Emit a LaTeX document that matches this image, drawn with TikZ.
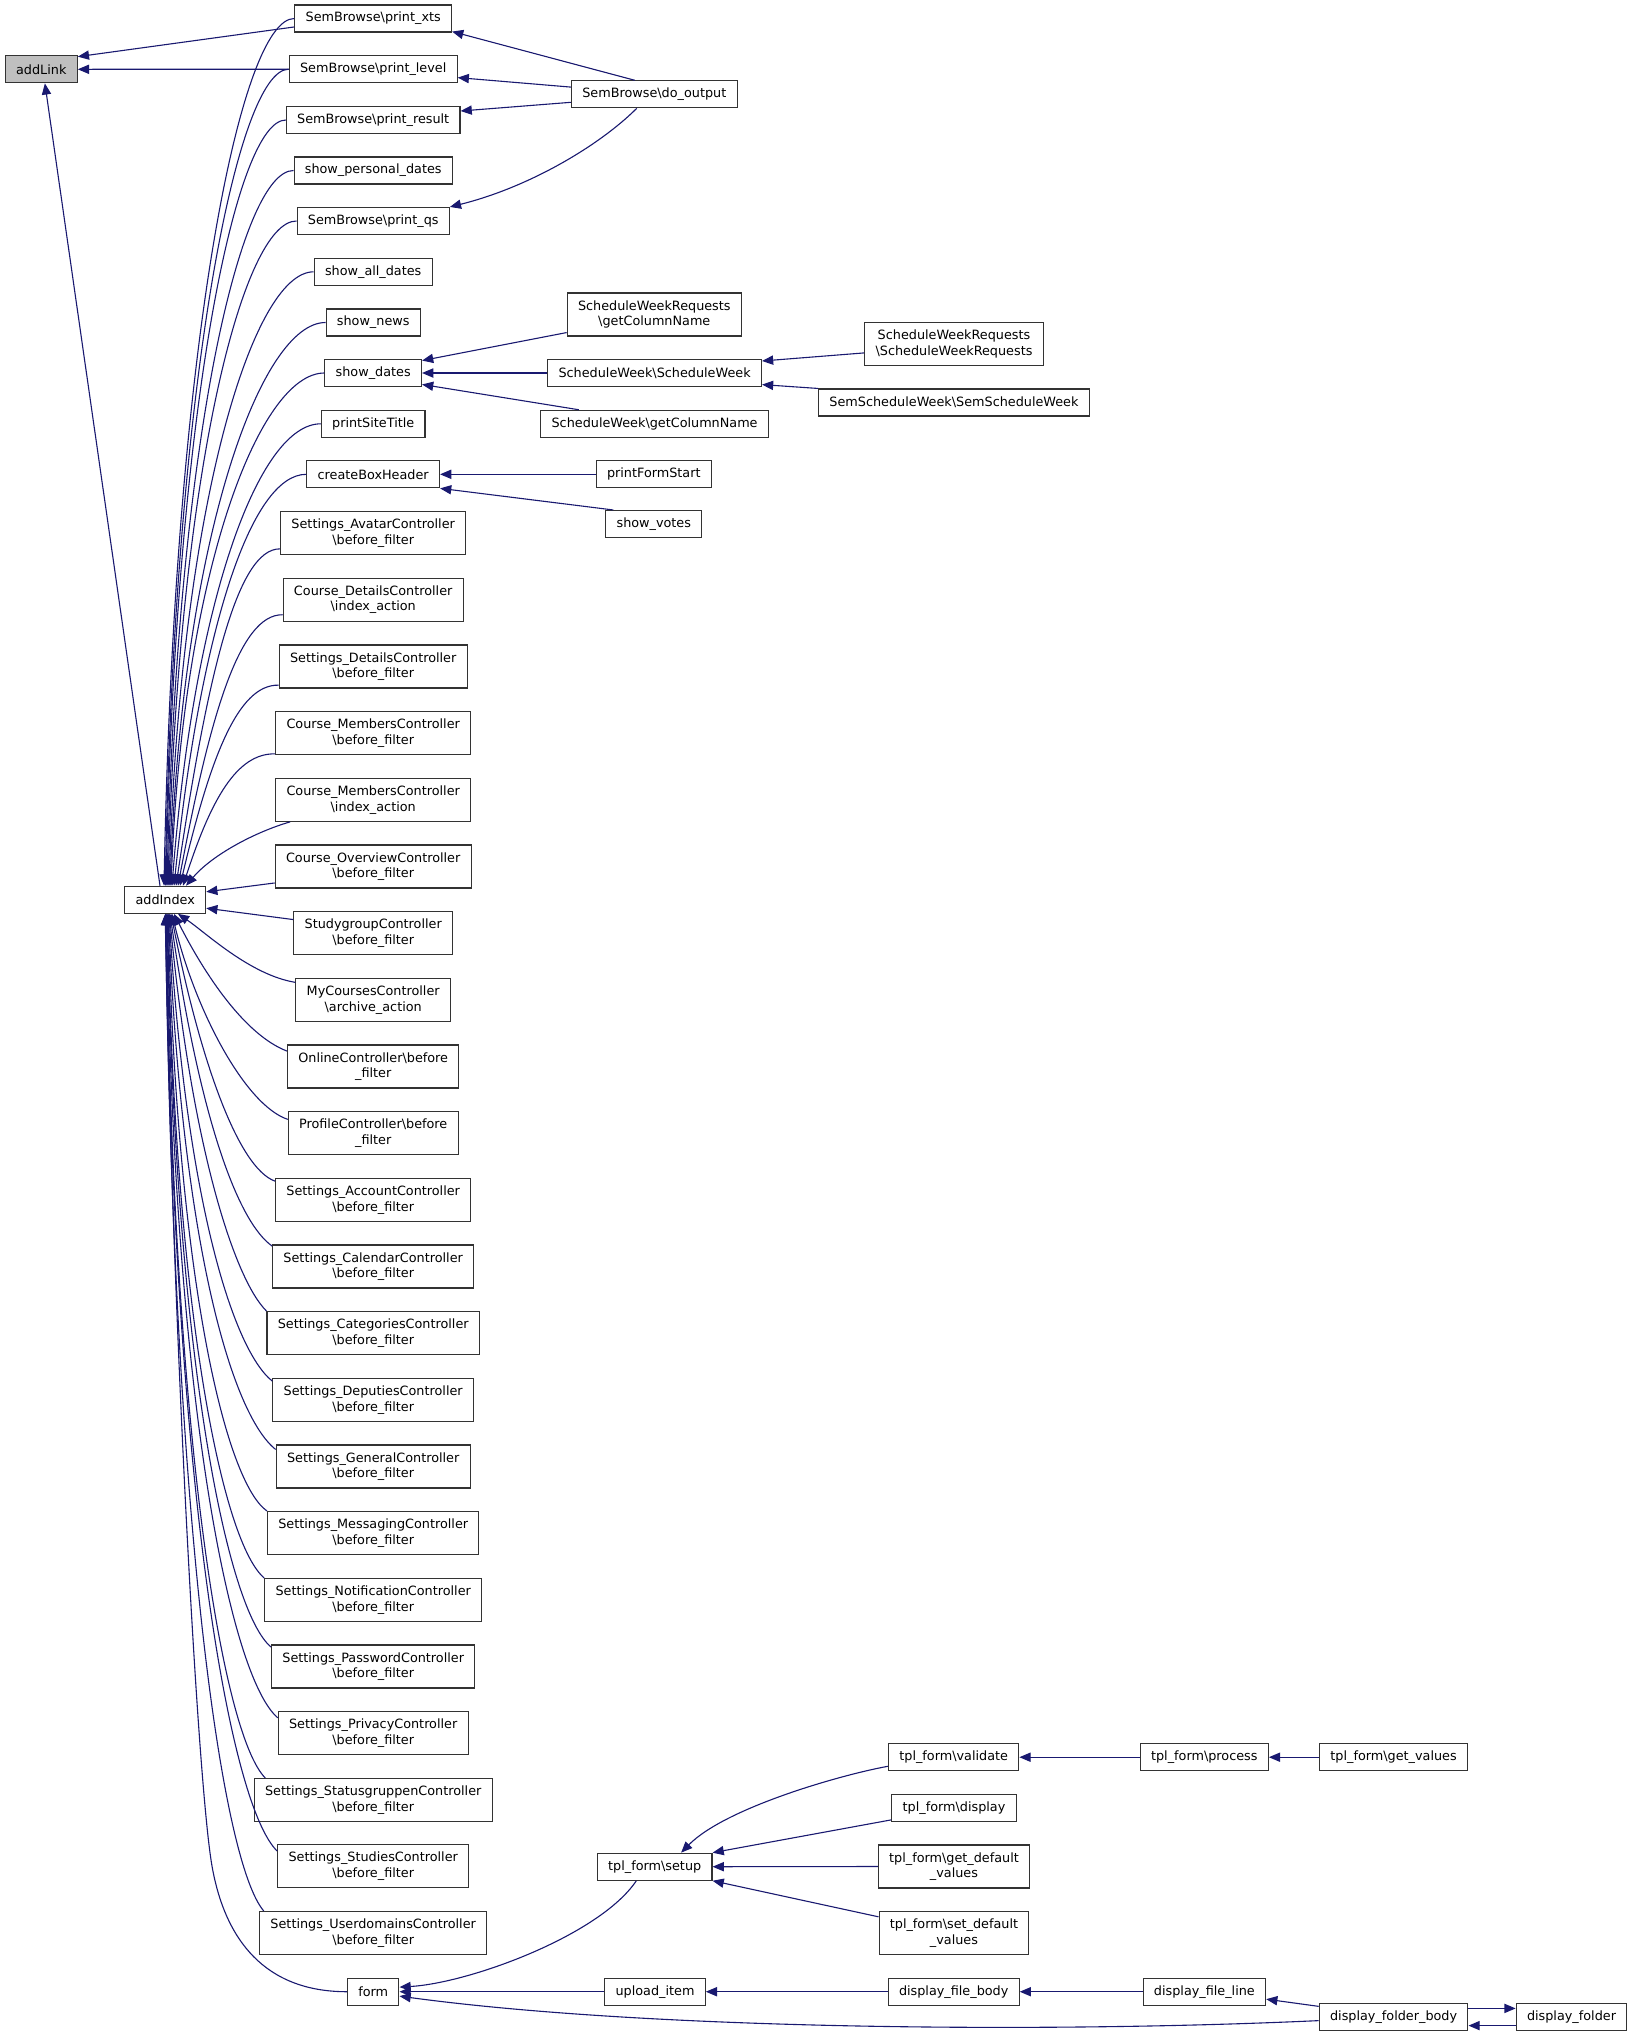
\documentclass[tikz,border=0pt]{standalone}
\usepackage{fontspec}
\newfontfamily\graphfont{DejaVu Sans}
\definecolor{Ink}{HTML}{333333}
\definecolor{Call}{HTML}{191970}
\definecolor{Focus}{HTML}{BFBFBF}
\usetikzlibrary{arrows.meta}
\newcommand{\bs}{\textbackslash}

\begin{document}
\begin{tikzpicture}[
    x=0.5pt, y=-0.5pt,
    fn/.style={
      draw=Ink, line width=0.55pt, fill=white, align=center,
      font=\graphfont\fontsize{6.4pt}{7.85pt}\selectfont,
      inner xsep=5.4pt, inner ysep=0pt, minimum height=13.5pt
    },
    fntwo/.style={fn, minimum height=21.5pt},
    focus/.style={fn, fill=Focus},
    call/.style={Call, line width=0.55pt, -{Triangle[length=5.6pt, width=4.6pt]}}
  ]
  \fill[white] (0,0) rectangle (1627,2036);
  \useasboundingbox (0,0) rectangle (1627,2036);

  \node[focus] (addLink) at (41.3,69.3) {addLink};
  \node[fn] (addIndex) at (165.2,899.8) {addIndex};

  \node[fn] (xts) at (373.2,18.5) {SemBrowse\bs print\_xts};
  \node[fn] (level) at (373.2,69.2) {SemBrowse\bs print\_level};
  \node[fn] (result) at (373.2,120) {SemBrowse\bs print\_result};
  \node[fn] (spd) at (373.2,170.5) {show\_personal\_dates};
  \node[fn] (qs) at (373.2,221) {SemBrowse\bs print\_qs};
  \node[fn] (sad) at (373.2,271.8) {show\_all\_dates};
  \node[fn] (news) at (373.2,322.5) {show\_news};
  \node[fn] (dates) at (373.2,373) {show\_dates};
  \node[fn] (pst) at (373.2,423.8) {printSiteTitle};
  \node[fn] (cbh) at (373.2,474.3) {createBoxHeader};
  \node[fntwo] (avatar) at (373.2,533.2) {Settings\_AvatarController\\\bs before\_filter};
  \node[fntwo] (cdi) at (373.2,599.7) {Course\_DetailsController\\\bs index\_action};
  \node[fntwo] (sdb) at (373.2,666.5) {Settings\_DetailsController\\\bs before\_filter};
  \node[fntwo] (cmb) at (373.2,733) {Course\_MembersController\\\bs before\_filter};
  \node[fntwo] (cmi) at (373.2,799.8) {Course\_MembersController\\\bs index\_action};
  \node[fntwo] (cob) at (373.2,866.5) {Course\_OverviewController\\\bs before\_filter};
  \node[fntwo] (sgb) at (373.2,933.2) {StudygroupController\\\bs before\_filter};
  \node[fntwo] (mca) at (373.2,1000) {MyCoursesController\\\bs archive\_action};
  \node[fntwo] (onb) at (373.2,1066.5) {OnlineController\bs before\\\_filter};
  \node[fntwo] (prb) at (373.2,1133) {ProfileController\bs before\\\_filter};
  \node[fntwo] (acc) at (373.2,1200) {Settings\_AccountController\\\bs before\_filter};
  \node[fntwo] (cal) at (373.2,1266.5) {Settings\_CalendarController\\\bs before\_filter};
  \node[fntwo] (cat) at (373.2,1333) {Settings\_CategoriesController\\\bs before\_filter};
  \node[fntwo] (dep) at (373.2,1400) {Settings\_DeputiesController\\\bs before\_filter};
  \node[fntwo] (gen) at (373.2,1466.5) {Settings\_GeneralController\\\bs before\_filter};
  \node[fntwo] (msg) at (373.2,1533) {Settings\_MessagingController\\\bs before\_filter};
  \node[fntwo] (noti) at (373.2,1600) {Settings\_NotificationController\\\bs before\_filter};
  \node[fntwo] (pwd) at (373.2,1666.5) {Settings\_PasswordController\\\bs before\_filter};
  \node[fntwo] (priv) at (373.2,1733) {Settings\_PrivacyController\\\bs before\_filter};
  \node[fntwo] (stat) at (373.2,1800) {Settings\_StatusgruppenController\\\bs before\_filter};
  \node[fntwo] (stud) at (373.2,1866.3) {Settings\_StudiesController\\\bs before\_filter};
  \node[fntwo] (udom) at (373.2,1933) {Settings\_UserdomainsController\\\bs before\_filter};
  \node[fn] (form) at (373.2,1991.7) {form};

  \node[fn] (doout) at (654.3,94.3) {SemBrowse\bs do\_output};
  \node[fntwo] (swrgc) at (654.3,314.5) {ScheduleWeekRequests\\\bs getColumnName};
  \node[fn] (swsw) at (654.6,373) {ScheduleWeek\bs ScheduleWeek};
  \node[fn] (swgc) at (654.6,423.8) {ScheduleWeek\bs getColumnName};
  \node[fn] (pfs) at (653.8,474.3) {printFormStart};
  \node[fn] (votes) at (653.8,524) {show\_votes};
  \node[fntwo] (swrsw) at (954,343.7) {ScheduleWeekRequests\\\bs ScheduleWeekRequests};
  \node[fn] (ssw) at (954,402.5) {SemScheduleWeek\bs SemScheduleWeek};

  \node[fn] (setup) at (654.7,1866.7) {tpl\_form\bs setup};
  \node[fn] (upload) at (655,1991.7) {upload\_item};
  \node[fn] (validate) at (953.7,1757.2) {tpl\_form\bs validate};
  \node[fn] (tdisplay) at (954,1807.8) {tpl\_form\bs display};
  \node[fntwo] (getdef) at (954,1866.5) {tpl\_form\bs get\_default\\\_values};
  \node[fntwo] (setdef) at (954,1933) {tpl\_form\bs set\_default\\\_values};
  \node[fn] (dfb) at (953.7,1991.7) {display\_file\_body};
  \node[fn] (process) at (1204.3,1757.2) {tpl\_form\bs process};
  \node[fn] (dfl) at (1204.4,1991.7) {display\_file\_line};
  \node[fn] (getvals) at (1393.6,1757.2) {tpl\_form\bs get\_values};
  \node[fn] (dfolb) at (1393.6,2017) {display\_folder\_body};
  \node[fn] (dfol) at (1571.5,2017) {display\_folder};

  % calls into addLink
  \draw[call] ([yshift=2.8pt]xts.south west) -- ([yshift=-0.7pt]addLink.north east);
  \draw[call] (level.west) -- (addLink.east);
  \draw[call] ([xshift=-2.6pt]addIndex.north) -- ([xshift=1.8pt]addLink.south);

  % calls into addIndex, from above
  \draw[call] (xts.west) .. controls (239.6,18.5) and (174.4,348.4) .. ([xshift=-0.6pt]addIndex.north);
  \draw[call] (level.west) .. controls (237.1,69.2) and (174.9,379.9) .. (addIndex.north);
  \draw[call] (result.west) .. controls (235.4,120) and (175.6,411.3) .. ([xshift=0.4pt]addIndex.north);
  \draw[call] (spd.west) .. controls (240.3,170.5) and (177.1,442.7) .. ([xshift=0.9pt]addIndex.north);
  \draw[call] (qs.west) .. controls (242.5,221) and (178.3,474) .. ([xshift=1.4pt]addIndex.north);
  \draw[call] (sad.west) .. controls (252.7,271.8) and (180.5,505.5) .. ([xshift=1.9pt]addIndex.north);
  \draw[call] (news.west) .. controls (260.8,322.5) and (182.5,536.9) .. ([xshift=2.4pt]addIndex.north);
  \draw[call] (dates.west) .. controls (260,373) and (183.3,568.2) .. ([xshift=2.9pt]addIndex.north);
  \draw[call] (pst.west) .. controls (258.7,423.8) and (194.4,599.7) .. ([xshift=3.4pt]addIndex.north);
  \draw[call] (cbh.west) .. controls (250.4,474.3) and (200.3,631) .. ([xshift=4.4pt]addIndex.north);
  \draw[call] ([yshift=3.2pt]avatar.south west) .. controls (236.5,548.3) and (207.3,676.9) .. ([xshift=5.4pt]addIndex.north);
  \draw[call] ([yshift=3.5pt]cdi.south west) .. controls (238.9,614) and (209.5,717.6) .. ([xshift=6.4pt]addIndex.north);
  \draw[call] ([yshift=1.7pt]sdb.south west) .. controls (237.6,684) and (209.8,759.2) .. ([xshift=7.4pt]addIndex.north);
  \draw[call] ([yshift=0.6pt]cmb.south west) .. controls (236.4,753) and (210.6,800.7) .. ([xshift=8.9pt]addIndex.north);
  \draw[call] ([xshift=7.5pt]cmi.south west) .. controls (255,832) and (212,855) .. ([xshift=10.4pt]addIndex.north);
  \draw[call] ([yshift=2.8pt]cob.south west) -- ([yshift=4pt]addIndex.east);
  \draw[call] ([yshift=-4.2pt]sgb.north west) -- ([yshift=-4.2pt]addIndex.east);

  % calls into addIndex, from below
  \draw[call] ([yshift=-2.2pt]mca.north west) .. controls (250,975) and (205,932) .. ([xshift=6.4pt]addIndex.south);
  \draw[call] ([yshift=-3.3pt]onb.north west) .. controls (245,1035) and (205,975) .. ([xshift=4.4pt]addIndex.south);
  \draw[call] ([yshift=-4.2pt]prb.north west) .. controls (245,1105) and (195,1010) .. ([xshift=3.4pt]addIndex.south);
  \draw[call] ([yshift=-1.6pt]acc.north west) .. controls (238,1168) and (200,1060) .. ([xshift=2.9pt]addIndex.south);
  \draw[call] ([yshift=-0.8pt]cal.north west) .. controls (238,1222) and (200,1120) .. ([xshift=2.4pt]addIndex.south);
  \draw[call] (cat.north west) .. controls (235,1280) and (192,1150) .. ([xshift=2.1pt]addIndex.south);
  \draw[call] ([yshift=-1.6pt]dep.north west) .. controls (233,1350) and (186,1200) .. ([xshift=1.9pt]addIndex.south);
  \draw[call] ([yshift=-2.5pt]gen.north west) .. controls (232,1415) and (182,1245) .. ([xshift=1.6pt]addIndex.south);
  \draw[call] (msg.north west) .. controls (226,1482) and (178,1285) .. ([xshift=1.4pt]addIndex.south);
  \draw[call] (noti.north west) .. controls (224,1544) and (176,1325) .. ([xshift=1.1pt]addIndex.south);
  \draw[call] ([yshift=-1.3pt]pwd.north west) .. controls (228,1611) and (176,1368) .. ([xshift=0.9pt]addIndex.south);
  \draw[call] ([yshift=-3.4pt]priv.north west) .. controls (231,1678) and (175,1412) .. ([xshift=0.6pt]addIndex.south);
  \draw[call] ([xshift=5.8pt]stat.north west) .. controls (223,1735) and (174,1449) .. ([xshift=0.4pt]addIndex.south);
  \draw[call] ([yshift=-3.4pt]stud.north west) .. controls (230,1805) and (174,1495) .. ([xshift=0.3pt]addIndex.south);
  \draw[call] ([xshift=2.3pt]udom.north west) .. controls (222,1862) and (174,1533) .. ([xshift=0.15pt]addIndex.south);
  \draw[call] (form.west) .. controls (265,1991.7) and (225,1940) .. (212,1866)
    .. controls (197,1780) and (172,1300) .. (addIndex.south);

  % upper right calls
  \draw[call] ([xshift=-9.8pt]doout.north) -- ([yshift=0.5pt]xts.south east);
  \draw[call] ([yshift=3.6pt]doout.west) -- ([yshift=-4.2pt]level.east);
  \draw[call] ([yshift=-4pt]doout.west) -- ([yshift=4.5pt]result.east);
  \draw[call] ([xshift=-8.8pt]doout.south) .. controls (600,145) and (530,187) .. (qs.north east);
  \draw[call] ([yshift=2pt]swrgc.south west) -- ([yshift=-0.8pt]dates.north east);
  \draw[call] (swsw.west) -- (dates.east);
  \draw[call] ([xshift=19.3pt]swgc.north west) -- ([yshift=1.3pt]dates.south east);
  \draw[call] ([yshift=-4.6pt]swrsw.west) -- ([yshift=6pt]swsw.east);
  \draw[call] (ssw.north west) -- ([yshift=-5.8pt]swsw.east);
  \draw[call] (pfs.west) -- (cbh.east);
  \draw[call] ([xshift=4pt]votes.north west) -- (cbh.south east);

  % lower right calls
  \draw[call] ([yshift=2.5pt]validate.south west) .. controls (840,1775) and (725,1808) .. ([xshift=13.2pt]setup.north);
  \draw[call] ([yshift=1pt]tdisplay.south west) -- (setup.north east);
  \draw[call] (getdef.west) -- (setup.east);
  \draw[call] ([yshift=8.1pt]setdef.west) -- (setup.south east);
  \draw[call] (process.west) -- (validate.east);
  \draw[call] (getvals.west) -- (process.east);
  \draw[call] (dfb.west) -- (upload.east);
  \draw[call] (dfl.west) -- (dfb.east);
  \draw[call] ([yshift=-1.7pt]dfolb.north west) -- ([yshift=3.3pt]dfl.south east);
  \draw[call] ([yshift=4.3pt]dfolb.east) -- ([yshift=4.3pt]dfol.west);
  \draw[call] ([yshift=-4.3pt]dfol.west) -- ([yshift=-4.3pt]dfolb.east);
  \draw[call] ([xshift=-9.2pt]setup.south) .. controls (600,1935) and (470,1983) .. ([yshift=2.3pt]form.east);
  \draw[call] (upload.west) -- (form.east);
  \draw[call] ([yshift=-1.8pt]dfolb.west) .. controls (1050,2033) and (650,2030) .. ([yshift=-2.2pt]form.east);
\end{tikzpicture}
\end{document}
